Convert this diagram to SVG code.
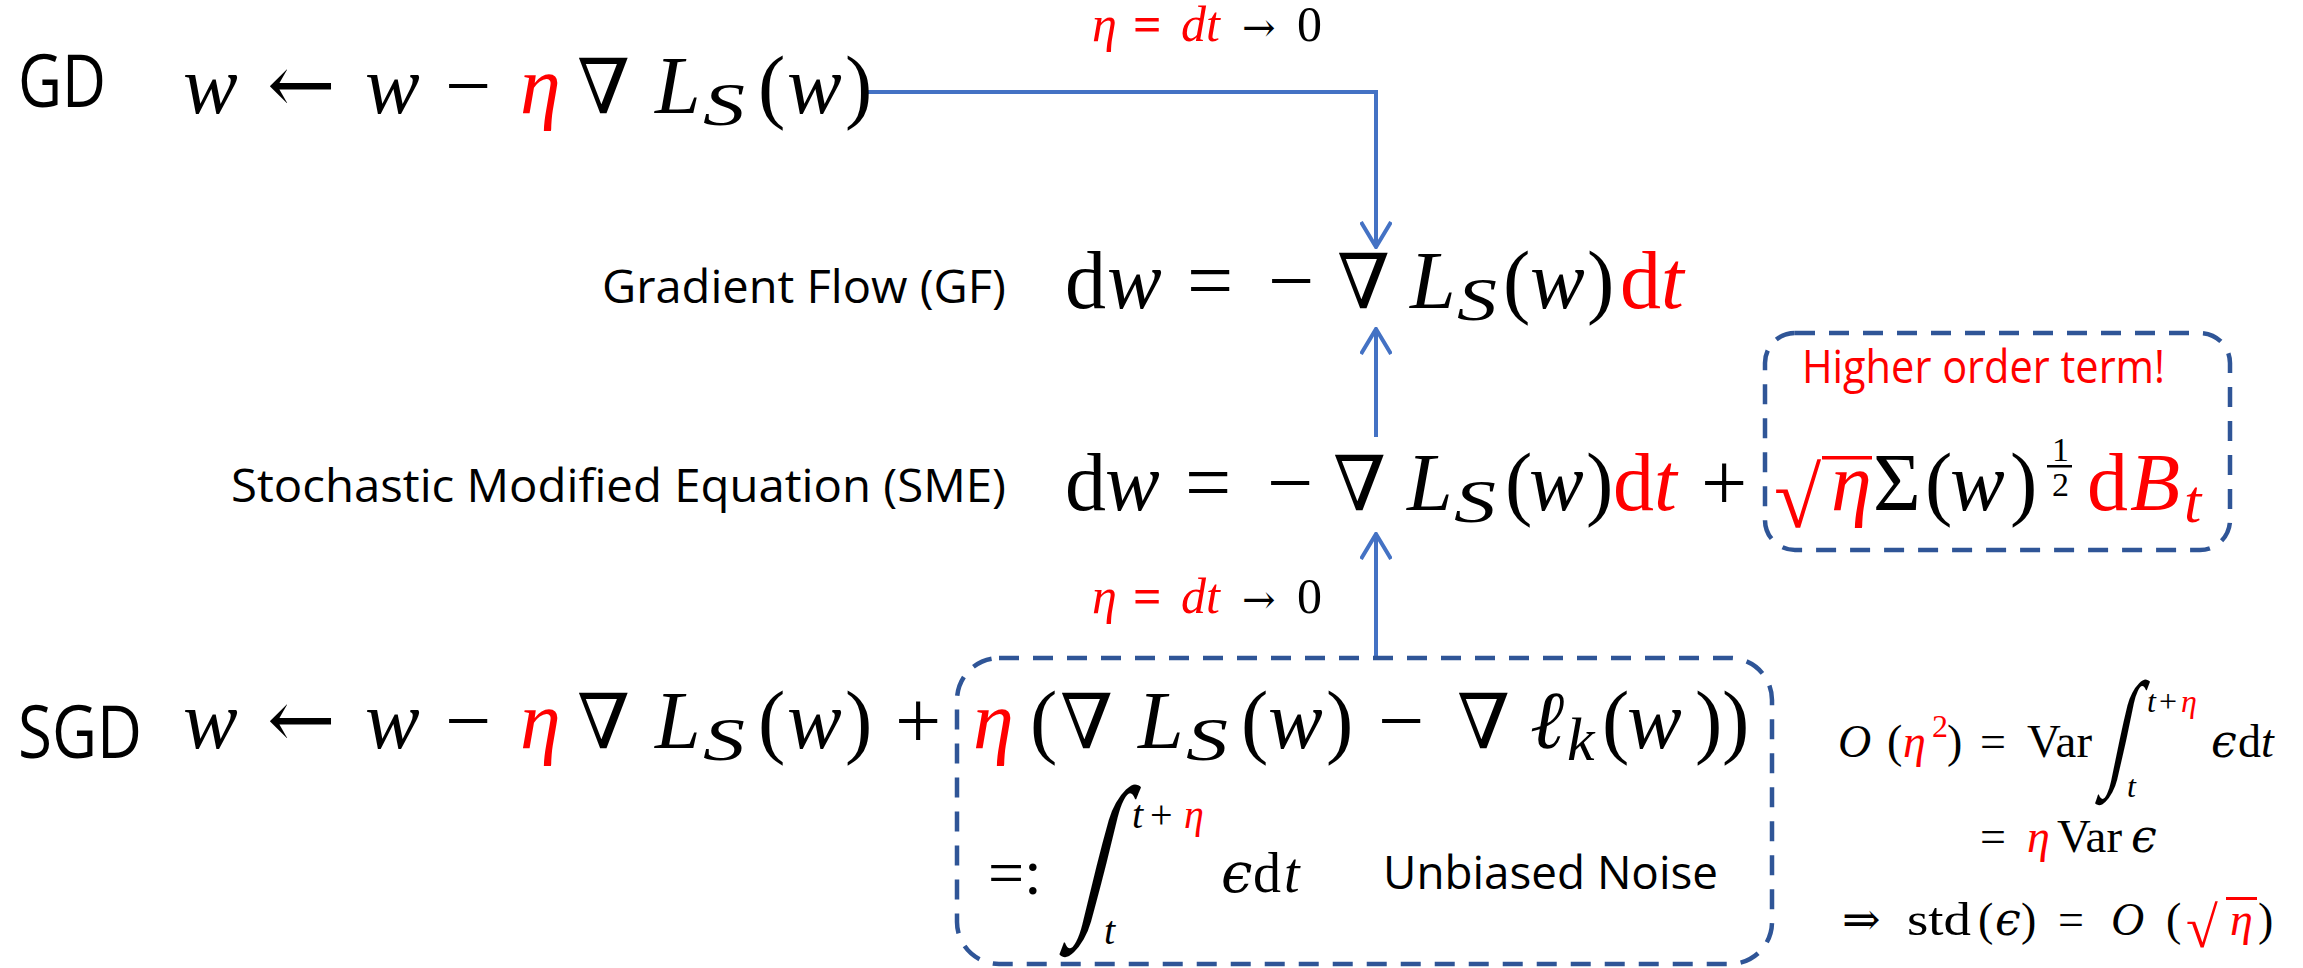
<svg xmlns="http://www.w3.org/2000/svg" width="2303" height="968" viewBox="0 0 2303 968">
<defs>
<style>
text { font-family: "Liberation Serif", "DejaVu Serif", serif; fill: #000; }
.m { font-size: 82px; }
.s { font-size: 62px; }
.i { font-style: italic; }
.r { fill: #FF0000; }
.sym { font-family: "DejaVu Serif", serif; }
.lbl { font-family: "Open Sans", "Noto Sans", sans-serif; font-size: 45px; }
.big { font-family: "Open Sans", "Noto Sans", sans-serif; font-size: 73px; }
.sm { font-size: 46px; }
.xs { font-size: 32px; }
.cond { font-size: 50px; }
.conn { fill: none; stroke: #4472C4; stroke-width: 4; }
.box { fill: none; stroke: #2F5597; stroke-width: 4.5; stroke-dasharray: 20 14; }
.bar { fill: #FF0000; }
</style>
<marker id="arr" viewBox="0 0 28 32" refX="26" refY="16" markerWidth="28" markerHeight="32" markerUnits="userSpaceOnUse" orient="auto">
<path d="M1,1 L26,16 L1,31" fill="none" stroke="#4472C4" stroke-width="4"/>
</marker>
</defs>
<rect width="2303" height="968" fill="#FFFFFF"/>

<g id="connectors">
<path class="conn" d="M867,92 H1376 V247" marker-end="url(#arr)"/>
<path class="conn" d="M1376,437 V329" marker-end="url(#arr)"/>
<path class="conn" d="M1376,657 V534" marker-end="url(#arr)"/>
<text class="cond" y="41"><tspan class="i r" x="1092">η</tspan><tspan class="r" x="1133" font-weight="bold">=</tspan><tspan class="i r" x="1181">dt</tspan><tspan class="sym" x="1242" font-size="40">→</tspan><tspan x="1297">0</tspan></text>
<text class="cond" y="613"><tspan class="i r" x="1092">η</tspan><tspan class="r" x="1133" font-weight="bold">=</tspan><tspan class="i r" x="1181">dt</tspan><tspan class="sym" x="1242" font-size="40">→</tspan><tspan x="1297">0</tspan></text>
</g>

<g id="gd">
<text class="big" x="18" y="107" textLength="88" lengthAdjust="spacingAndGlyphs">GD</text>
<text class="m" y="113"><tspan class="i" x="183">w</tspan><tspan class="sym" x="267">←</tspan><tspan class="i" x="365">w</tspan><tspan x="445">−</tspan><tspan class="i r" x="520">η</tspan><tspan class="sym" x="577" font-size="76">∇</tspan><tspan class="i" x="655">L</tspan><tspan class="i s" x="703" y="125" textLength="42" lengthAdjust="spacingAndGlyphs">S</tspan><tspan x="758" y="113">(</tspan><tspan class="i" x="787">w</tspan><tspan x="845">)</tspan></text>
</g>

<g id="gf">
<text class="lbl" x="602" y="303" textLength="404" lengthAdjust="spacingAndGlyphs">Gradient Flow (GF)</text>
<text class="m" y="308"><tspan x="1065">d</tspan><tspan class="i" x="1107">w</tspan><tspan x="1187">=</tspan><tspan x="1268">−</tspan><tspan class="sym" x="1337" font-size="76">∇</tspan><tspan class="i" x="1410">L</tspan><tspan class="i s" x="1457" y="320" textLength="40" lengthAdjust="spacingAndGlyphs">S</tspan><tspan x="1503" y="308">(</tspan><tspan class="i" x="1530">w</tspan><tspan x="1587">)</tspan><tspan class="r" x="1620">d</tspan><tspan class="i r" x="1661">t</tspan></text>
</g>

<g id="sme">
<text class="lbl" x="231" y="502" textLength="775" lengthAdjust="spacingAndGlyphs">Stochastic Modified Equation (SME)</text>
<text class="m" y="510"><tspan x="1065">d</tspan><tspan class="i" x="1105">w</tspan><tspan x="1185">=</tspan><tspan x="1267">−</tspan><tspan class="sym" x="1333" font-size="76">∇</tspan><tspan class="i" x="1407">L</tspan><tspan class="i s" x="1454" y="522" textLength="42" lengthAdjust="spacingAndGlyphs">S</tspan><tspan x="1505" y="510">(</tspan><tspan class="i" x="1529">w</tspan><tspan x="1586">)</tspan><tspan class="r" x="1613">d</tspan><tspan class="i r" x="1654">t</tspan><tspan x="1701">+</tspan></text>
</g>

<g id="higher-order">
<rect class="box" x="1765" y="333" width="465" height="217" rx="30" ry="30"/>
<text class="lbl r" x="1802" y="383" font-size="40" textLength="363" lengthAdjust="spacingAndGlyphs">Higher order term!</text>
<text class="r" x="1774" y="527" font-size="86">√</text>
<rect class="bar" x="1822" y="456" width="50" height="3.5"/>
<text class="m" y="510"><tspan class="i r" x="1831">η</tspan><tspan x="1873">Σ</tspan><tspan x="1925">(</tspan><tspan class="i" x="1950">w</tspan><tspan x="2010">)</tspan><tspan class="r" x="2087">d</tspan><tspan class="i r" x="2130">B</tspan><tspan class="i r s" x="2184" y="522">t</tspan></text>
<text font-size="34" x="2052" y="461">1</text>
<rect x="2047" y="465" width="25" height="2.5" fill="#000"/>
<text font-size="34" x="2052" y="496">2</text>
</g>

<g id="sgd">
<text class="big" x="18" y="758" textLength="124" lengthAdjust="spacingAndGlyphs">SGD</text>
<text class="m" y="748"><tspan class="i" x="183">w</tspan><tspan class="sym" x="267">←</tspan><tspan class="i" x="365">w</tspan><tspan x="445">−</tspan><tspan class="i r" x="520">η</tspan><tspan class="sym" x="577" font-size="76">∇</tspan><tspan class="i" x="655">L</tspan><tspan class="i s" x="703" y="760" textLength="42" lengthAdjust="spacingAndGlyphs">S</tspan><tspan x="758" y="748">(</tspan><tspan class="i" x="787">w</tspan><tspan x="845">)</tspan><tspan x="895">+</tspan><tspan class="i r" x="973">η</tspan><tspan x="1030">(</tspan><tspan class="sym" x="1060" font-size="76">∇</tspan><tspan class="i" x="1138">L</tspan><tspan class="i s" x="1186" y="760" textLength="42" lengthAdjust="spacingAndGlyphs">S</tspan><tspan x="1241" y="748">(</tspan><tspan class="i" x="1268">w</tspan><tspan x="1326">)</tspan><tspan x="1378">−</tspan><tspan class="sym" x="1457" font-size="76">∇</tspan><tspan class="i" x="1530">ℓ</tspan><tspan class="i s" x="1567" y="760">k</tspan><tspan x="1602" y="748">(</tspan><tspan class="i" x="1627">w</tspan><tspan x="1695">)</tspan><tspan x="1722">)</tspan></text>
</g>

<g id="noise">
<rect class="box" x="957" y="658" width="815" height="306" rx="42" ry="42"/>
<text font-size="64" x="988" y="894">=:</text>
<text font-size="176" transform="translate(1076,910) skewX(-14) scale(0.6,1)">∫</text>
<text font-size="40" y="828"><tspan class="i" x="1132">t</tspan><tspan x="1150">+</tspan><tspan class="i r" x="1184">η</tspan></text>
<text class="i" font-size="40" x="1104" y="944">t</text>
<text font-size="56" y="892"><tspan class="sym i" x="1221">ϵ</tspan><tspan x="1253">d</tspan><tspan class="i" x="1284">t</tspan></text>
<text class="lbl" x="1383" y="889" textLength="335" lengthAdjust="spacingAndGlyphs">Unbiased Noise</text>
</g>

<g id="variance-note">
<text class="sm" y="757"><tspan class="i" x="1838">O</tspan><tspan x="1887">(</tspan><tspan class="i r" x="1903">η</tspan><tspan class="r xs" x="1932" y="737">2</tspan><tspan x="1947" y="757">)</tspan><tspan x="1980">=</tspan><tspan x="2027" textLength="65" lengthAdjust="spacingAndGlyphs">Var</tspan></text>
<text font-size="128" transform="translate(2106,771) skewX(-12) scale(0.6,1)">∫</text>
<text class="xs" y="712"><tspan class="i" x="2147">t</tspan><tspan x="2159">+</tspan><tspan class="i r" x="2181">η</tspan></text>
<text class="i xs" x="2127" y="797">t</text>
<text class="sm" y="757"><tspan class="sym i" x="2211">ϵ</tspan><tspan x="2238">d</tspan><tspan class="i" x="2261">t</tspan></text>
<text class="sm" y="852"><tspan x="1980">=</tspan><tspan class="i r" x="2027">η</tspan><tspan x="2057" textLength="65" lengthAdjust="spacingAndGlyphs">Var</tspan><tspan class="sym i" x="2131">ϵ</tspan></text>
<text class="sm" y="935"><tspan class="sym" x="1842">⇒</tspan><tspan x="1907" textLength="64" lengthAdjust="spacingAndGlyphs">std</tspan><tspan x="1978">(</tspan><tspan class="sym i" x="1995">ϵ</tspan><tspan x="2021">)</tspan><tspan x="2058">=</tspan><tspan class="i" x="2111">O</tspan><tspan x="2166">(</tspan><tspan x="2258">)</tspan></text>
<text class="r" font-size="58" x="2186" y="947">√</text>
<rect class="bar" x="2226" y="897" width="31" height="3"/>
<text class="sm i r" x="2230" y="935">η</text>
</g>
</svg>
